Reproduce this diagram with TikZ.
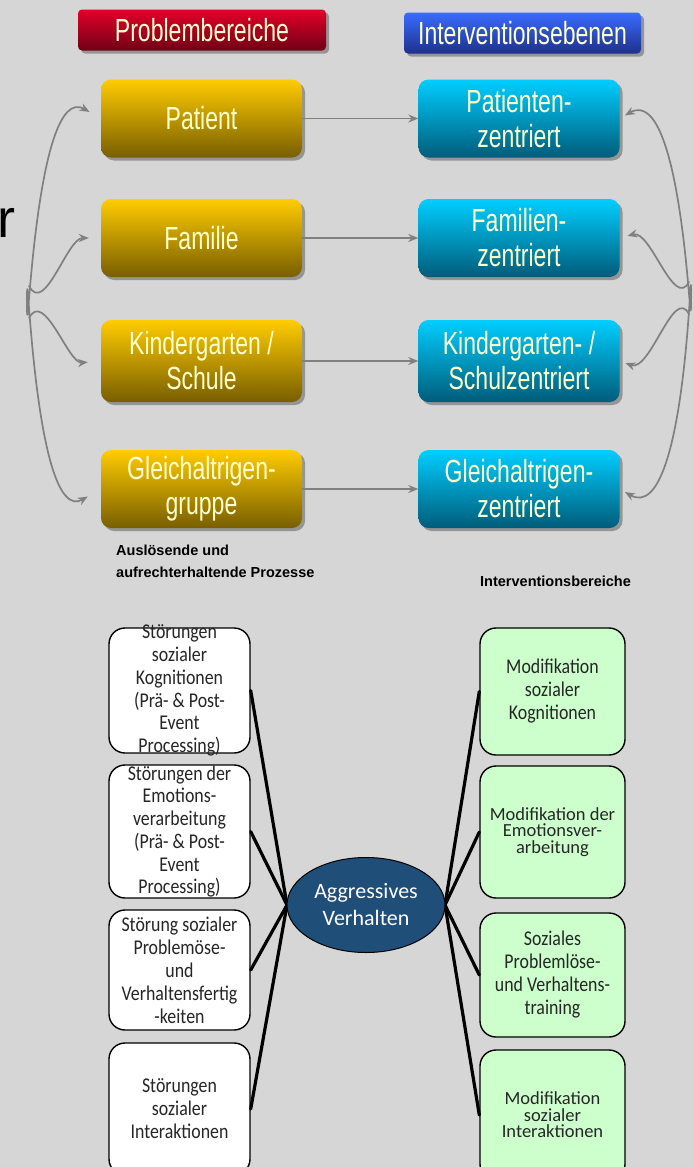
\documentclass[tikz,border=0pt]{standalone}
\usepackage{fontspec}
\setmainfont{Carlito}
\newfontfamily\headfont[FakeStretch=0.72]{Liberation Sans}
\newfontfamily\boxfont[FakeStretch=0.85]{Carlito}
\newfontfamily\arialfont{Liberation Sans}
\usetikzlibrary{arrows.meta,shapes.geometric,shadows}
\definecolor{bg}{RGB}{214,214,214}
\definecolor{cream}{RGB}{255,255,205}
\definecolor{rottop}{RGB}{228,0,42}
\definecolor{rotbot}{RGB}{112,0,22}
\definecolor{blautop}{RGB}{58,108,255}
\definecolor{blaubot}{RGB}{30,48,140}
\definecolor{gelbtop}{RGB}{255,204,0}
\definecolor{gelbbot}{RGB}{120,94,0}
\definecolor{cyantop}{RGB}{0,206,255}
\definecolor{cyanbot}{RGB}{0,92,122}
\definecolor{hellgruen}{RGB}{204,255,204}
\definecolor{kernblau}{RGB}{31,78,121}
\definecolor{pfeilgrau}{RGB}{128,128,128}
\begin{document}
\begin{tikzpicture}[x=1pt,y=-1pt,>={Stealth[length=10pt,width=8pt]},line join=round,line cap=round,
    schatten/.style={drop shadow={shadow xshift=3pt,shadow yshift=-3pt,fill=black,opacity=0.3}},
    titel/.style={schatten,rounded corners=4pt,minimum height=41pt,inner sep=0pt,text=cream,
      font=\headfont\fontsize{32}{35}\selectfont},
    problem/.style={schatten,rounded corners=10pt,minimum width=201pt,minimum height=78pt,inner sep=0pt,
      top color=gelbtop,bottom color=gelbbot,text=cream,align=center,font=\headfont\fontsize{32}{35}\selectfont},
    ebene/.style={problem,top color=cyantop,bottom color=cyanbot},
    prozess/.style={draw=black,line width=1.4pt,rounded corners=16pt,fill=white,minimum width=141pt,
      inner sep=0pt,align=center,text=black!85,font=\boxfont\fontsize{21}{23}\selectfont},
    bereich/.style={prozess,fill=hellgruen,minimum width=145pt},
    eng/.style={font=\fontsize{18.5}{16.5}\selectfont},
    txt/.style={align=center,inner sep=0pt,text=black!85,font=\boxfont\fontsize{21}{22.7}\selectfont},
    bogen/.style={->,draw=pfeilgrau,line width=1.7pt},
    linie/.style={draw=black,line width=3.2pt}]
  \useasboundingbox[fill=bg] (0,0) rectangle (693,1167);
  % Kopfzeile
  \node[titel,minimum width=248pt,top color=rottop,bottom color=rotbot] (hp) at (202,30) {Problembereiche};
  \node[titel,minimum width=237pt,top color=blautop,bottom color=blaubot] (hi) at (522.5,33) {Interventionsebenen};
  \node[inner sep=0pt,anchor=base east,font=\arialfont\fontsize{54}{60}\selectfont] (rest) at (16,237) {r};
  % Problembereiche und Ebenen
  \node[problem] (pat) at (201.5,118.5) {Patient};
  \node[problem] (fam) at (201.5,238) {Familie};
  \node[problem,minimum height=82pt] (kig) at (201.5,361) {Kindergarten /\\Schule};
  \node[problem] (glg) at (201.5,489) {Gleichaltrigen-\\gruppe};
  \node[ebene] (epat) at (519,118.5) {Patienten-\\zentriert};
  \node[ebene] (efam) at (519,238) {Familien-\\zentriert};
  \node[ebene,minimum height=82pt] (ekig) at (519,361) {Kindergarten- /\\Schulzentriert};
  \node[ebene] (eglg) at (519,489) {Gleichaltrigen-\\zentriert};
  \foreach \a/\b in {pat/epat,fam/efam,kig/ekig,glg/eglg}
    \draw[bogen] (\a) -- (\b);
  % Klammerboegen
  \coordinate (lh) at (27,302);
  \coordinate (lf) at (29,286);
  \coordinate (lk) at (29,318);
  \coordinate (rh) at (691,298);
  \coordinate (rf) at (689,282);
  \coordinate (rk) at (689,314);
  \draw[bogen,<->,shorten <=13pt,shorten >=15pt] (pat.west) to[out=150,in=-90] (lh) to[out=90,in=210] (glg.west);
  \draw[bogen,shorten >=12pt] (lf) to[out=-62,in=180] (fam.west);
  \draw[bogen,shorten >=13pt] (lk) to[out=62,in=185] (kig.west);
  \draw[bogen,<->,shorten <=6pt,shorten >=6pt] (epat.east) to[out=30,in=-90] (rh) to[out=90,in=-30] (eglg.east);
  \draw[bogen,shorten >=8pt] (rf) to[out=-118,in=15] (efam.east);
  \draw[bogen,shorten >=6pt] (rk) to[out=118,in=-20] (ekig.east);
  % unterer Teil
  \node[anchor=north west,align=left,inner sep=0pt,font=\arialfont\bfseries\fontsize{14.5}{22}\selectfont] (ausl) at (116,545)
    {Auslösende und\\aufrechterhaltende Prozesse};
  \node[anchor=west,inner sep=0pt,font=\arialfont\bfseries\fontsize{14.5}{22}\selectfont] (ibt) at (480,581) {Interventionsbereiche};
  \node[prozess,minimum height=125pt,label={[txt]center:{Störungen\\sozialer\\Kognitionen\\(Prä- \& Post-\\Event\\Processing)}}] (p1) at (179.5,690.5) {};
  \node[prozess,minimum height=133pt,label={[txt]center:{Störungen der\\Emotions-\\verarbeitung\\(Prä- \& Post-\\Event\\Processing)}}] (p2) at (179.5,831.5) {};
  \node[prozess,minimum height=120pt] (p3) at (179.5,970) {Störung sozialer\\Problemöse-\\und\\Verhaltensfertig\\-keiten};
  \node[prozess,minimum height=132pt] (p4) at (179.5,1109) {Störungen\\sozialer\\Interaktionen};
  \node[bereich,minimum height=127pt] (b1) at (552.5,691.5) {Modifikation\\sozialer\\Kognitionen};
  \node[bereich,eng,minimum height=132pt] (b2) at (552.5,832) {Modifikation der\\Emotionsver-\\arbeitung};
  \node[bereich,minimum height=124pt] (b3) at (552.5,975) {Soziales\\Problemlöse-\\und Verhaltens-\\training};
  \node[bereich,eng,minimum height=130pt] (b4) at (552.5,1115) {Modifikation\\sozialer\\Interaktionen};
  \foreach \b in {p1,p2,p3,p4}
    \draw[linie] (\b.east) -- (366-79,905);
  \foreach \b in {b1,b2,b3,b4}
    \draw[linie] (\b.west) -- (366+79,905);
  \node[ellipse,draw=black,line width=1pt,fill=kernblau,minimum width=158pt,minimum height=95pt,inner sep=0pt,
    text=white,align=center,font=\fontsize{22}{27}\selectfont] (av) at (366,905) {Aggressives\\Verhalten};
\end{tikzpicture}
\end{document}
